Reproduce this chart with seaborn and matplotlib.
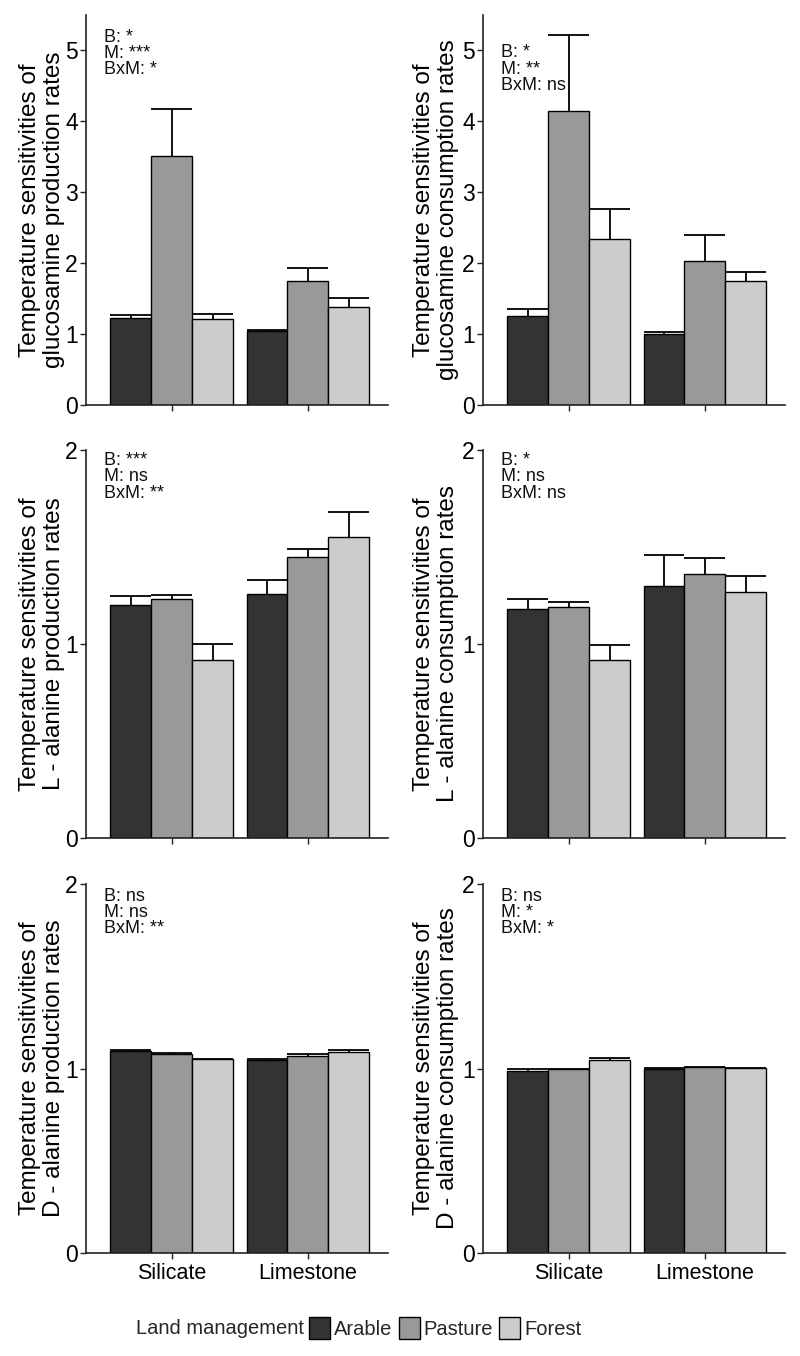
import matplotlib
matplotlib.use("Agg")
import matplotlib.pyplot as plt
from matplotlib.patches import Patch
import pandas as pd
import seaborn as sns

# categories
bedrock = ["Silicate", "Limestone"]
management = ["Arable", "Pasture", "Forest"]
colors = ["#333333", "#999999", "#cccccc"]

# values ordered: Silicate (Arable, Pasture, Forest), Limestone (Arable, Pasture, Forest)
glc_prod_mean = [1.22, 3.51, 1.21, 1.05, 1.75, 1.38]
glc_prod_se = [0.05, 0.66, 0.08, 0.01, 0.18, 0.13]
glc_cons_mean = [1.26, 4.14, 2.34, 1.00, 2.03, 1.75]
glc_cons_se = [0.09, 1.08, 0.43, 0.03, 0.37, 0.12]
lala_prod_mean = [1.20, 1.23, 0.92, 1.26, 1.45, 1.55]
lala_prod_se = [0.05, 0.025, 0.08, 0.07, 0.04, 0.13]
lala_cons_mean = [1.18, 1.19, 0.92, 1.30, 1.36, 1.27]
lala_cons_se = [0.05, 0.025, 0.075, 0.16, 0.085, 0.08]
dala_prod_mean = [1.095, 1.08, 1.05, 1.048, 1.068, 1.088]
dala_prod_se = [0.005, 0.005, 0.003, 0.002, 0.008, 0.012]
dala_cons_mean = [0.986, 0.998, 1.044, 1.0, 1.007, 1.002]
dala_cons_se = [0.014, 0.002, 0.012, 0.002, 0.002, 0.002]

sig_glc_prod = ["B: *", "M: ***", "BxM: *"]
sig_glc_cons = ["B: *", "M: **", "BxM: ns"]
sig_lala_prod = ["B: ***", "M: ns", "BxM: **"]
sig_lala_cons = ["B: *", "M: ns", "BxM: ns"]
sig_dala_prod = ["B: ns", "M: ns", "BxM: **"]
sig_dala_cons = ["B: ns", "M: *", "BxM: *"]

panels = [
    ("Temperature sensitivities of\nglucosamine production rates", glc_prod_mean, glc_prod_se, sig_glc_prod, 5.5, [0, 1, 2, 3, 4, 5], 0.965),
    ("Temperature sensitivities of\nglucosamine consumption rates", glc_cons_mean, glc_cons_se, sig_glc_cons, 5.5, [0, 1, 2, 3, 4, 5], 0.925),
    ("Temperature sensitivities of\nL - alanine production rates", lala_prod_mean, lala_prod_se, sig_lala_prod, 2, [0, 1, 2], 0.995),
    ("Temperature sensitivities of\nL - alanine consumption rates", lala_cons_mean, lala_cons_se, sig_lala_cons, 2, [0, 1, 2], 0.995),
    ("Temperature sensitivities of\nD - alanine production rates", dala_prod_mean, dala_prod_se, sig_dala_prod, 2, [0, 1, 2], 0.99),
    ("Temperature sensitivities of\nD - alanine consumption rates", dala_cons_mean, dala_cons_se, sig_dala_cons, 2, [0, 1, 2], 0.99),
]

sns.set_theme(style="ticks")
plt.rcParams["font.family"] = ["Liberation Sans", "DejaVu Sans"]

fig = plt.figure(figsize=(8, 13.56), dpi=100)

W, H = 800, 1356
col_x = [86, 483]
ax_w = 302
rows = [(15, 405), (450, 838), (884, 1253)]

for i, (ylab, means, se, sig, ytop, yticks, sig_y) in enumerate(panels):
    r, c = divmod(i, 2)
    top, bottom = rows[r]
    ax = fig.add_axes([col_x[c] / W, 1 - bottom / H, ax_w / W, (bottom - top) / H])

    df = pd.DataFrame({
        "bedrock": [b for b in bedrock for _ in management],
        "management": management * len(bedrock),
        "value": means,
        "se": se,
    })
    sns.barplot(data=df, x="bedrock", y="value", hue="management",
                order=bedrock, hue_order=management, palette=colors,
                width=0.9, edgecolor="black", linewidth=1.0, saturation=1,
                errorbar=None, legend=False, ax=ax)

    # upper-only error bars with caps as wide as the bars
    for h, cont in zip(management, ax.containers):
        for b, bar in zip(bedrock, cont):
            err = df.loc[(df.bedrock == b) & (df.management == h), "se"].iloc[0]
            x0 = bar.get_x()
            w = bar.get_width()
            yv = bar.get_height()
            ax.vlines(x0 + w / 2, yv, yv + err, color="black", lw=1.3, zorder=1)
            ax.hlines(yv + err, x0, x0 + w, color="black", lw=1.3, zorder=1)

    ax.set_xlim(-0.63, 1.59)
    ax.set_ylim(0, ytop)
    ax.set_yticks(yticks)
    ax.set_xlabel("")
    ax.set_ylabel(ylab, fontsize=17.5, color="black", linespacing=1.12)
    ax.yaxis.set_label_coords(-0.07 if c == 0 else -0.08, 0.5)
    if r < 2:
        ax.set_xticklabels([])
    sns.despine(ax=ax)
    for s in ["left", "bottom"]:
        ax.spines[s].set_linewidth(1.2)
        ax.spines[s].set_color("#222222")
    ax.tick_params(axis="y", labelsize=16.5, length=4, width=1.0,
                   color="#222222", labelcolor="black", pad=2)
    ax.tick_params(axis="x", labelsize=15.5, length=4, width=1.0,
                   color="#222222", labelcolor="black", pad=3)
    ax.text(0.058, sig_y, "\n".join(sig), transform=ax.transAxes,
            ha="left", va="top", fontsize=13, linespacing=0.95, color="#111111")

# legend at the bottom
ly = 1 - 1328 / H
fig.text(136 / W, ly, "Land management", ha="left", va="center", fontsize=14.5)
handles = [Patch(facecolor=col, edgecolor="black", linewidth=1.0) for col in colors]
fig.legend(handles, management, loc="center left", bbox_to_anchor=(309 / W, ly),
           ncol=3, frameon=False, fontsize=14.5, handlelength=1.05, handleheight=1.35,
           handletextpad=0.2, columnspacing=0.3, borderaxespad=0, borderpad=0)

fig.savefig("out.png", dpi=100)
